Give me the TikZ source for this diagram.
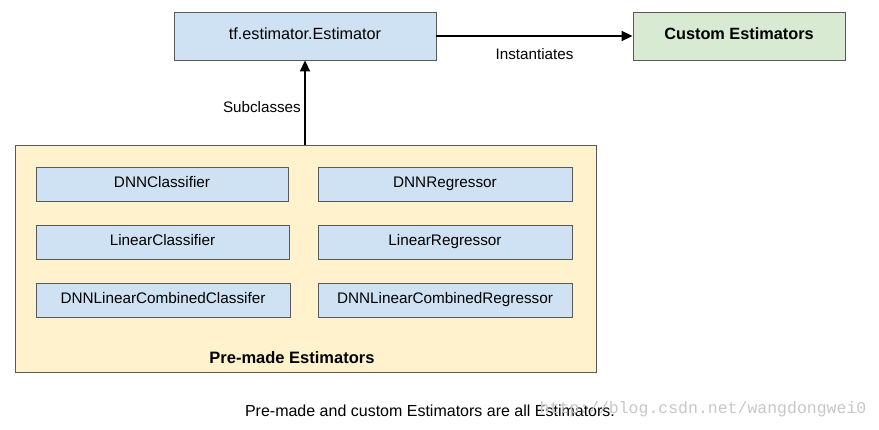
\documentclass[tikz,border=0pt]{standalone}
\usepackage{fontspec}
\setmainfont{Liberation Sans}
\newfontfamily\markfont{Liberation Mono}
\usepackage{tikz}
\usetikzlibrary{arrows.meta,positioning}
\definecolor{estblue}{HTML}{CFE2F3}
\definecolor{estgreen}{HTML}{D9EAD3}
\definecolor{estyellow}{HTML}{FFF2CC}
\definecolor{estline}{HTML}{595959}
\tikzset{
  estbox/.style={ draw=estline, line width=0.9pt, fill=estblue, minimum height=34pt,
    text height=0.9em, text depth=0.18em, font=\fontsize{15.3}{17}\selectfont }
}
\tikzset{
  topbox/.style={ estbox, minimum height=48pt, font=\fontsize{16.2}{18}\selectfont }
}
\tikzset{
  custbox/.style={ topbox, fill=estgreen, font=\fontsize{16.3}{18}\selectfont\bfseries }
}
\tikzset{
  groupbox/.style={ draw=estline, line width=0.9pt, fill=estyellow, minimum width=581pt, minimum height=227pt }
}
\tikzset{
  relarrow/.style={ -{Triangle[length=11pt,width=10pt]}, line width=1.8pt }
}
\tikzset{
  rellabel/.style={ font=\fontsize{15.2}{17}\selectfont }
}

\begin{document}
\begin{tikzpicture}[x=1pt, y=-1pt]
      \useasboundingbox (0, 0) rectangle (879, 430);
      \node[topbox, minimum width=262pt] (tf) at (305, 36) {tf.estimator.Estimator};
      \node[custbox, minimum width=212pt] (custom) at (739, 36) {Custom Estimators};
      \node[groupbox] (premade) at (305.5, 258.5) {};
      \node[font=\fontsize{16.5}{18}\selectfont\bfseries] (premadelbl) at (292, 358) {Pre-made Estimators};

      % pre-made classes
      \node[estbox, minimum width=252pt] (dnncls) at (162, 184) {DNNClassifier};
      \node[estbox, minimum width=254pt] (dnnreg) at (445, 184) {DNNRegressor};
      \node[estbox, minimum width=253pt] (lincls) at (162.5, 242) {LinearClassifier};
      \node[estbox, minimum width=254pt] (linreg) at (445, 242) {LinearRegressor};
      \node[estbox, minimum width=254pt] (combcls) at (163, 300) {DNNLinearCombinedClassifer};
      \node[estbox, minimum width=254pt] (combreg) at (445, 300) {DNNLinearCombinedRegressor};

      \draw[relarrow] (tf) -- node[below=8pt, rellabel] {Instantiates} (custom);
      \draw[relarrow] (premade.north -| tf.south) -- node[pos=0.45, left, rellabel] {Subclasses} (tf.south);

      \node[font=\fontsize{16}{18}\selectfont] (caption) at (430, 411) {Pre-made and custom Estimators are all Estimators.};
      \node[font=\markfont\fontsize{16.5}{18}\selectfont, text=black!22] (mark) at (703, 409) {http://blog.csdn.net/wangdongwei0};
\end{tikzpicture}
\end{document}
